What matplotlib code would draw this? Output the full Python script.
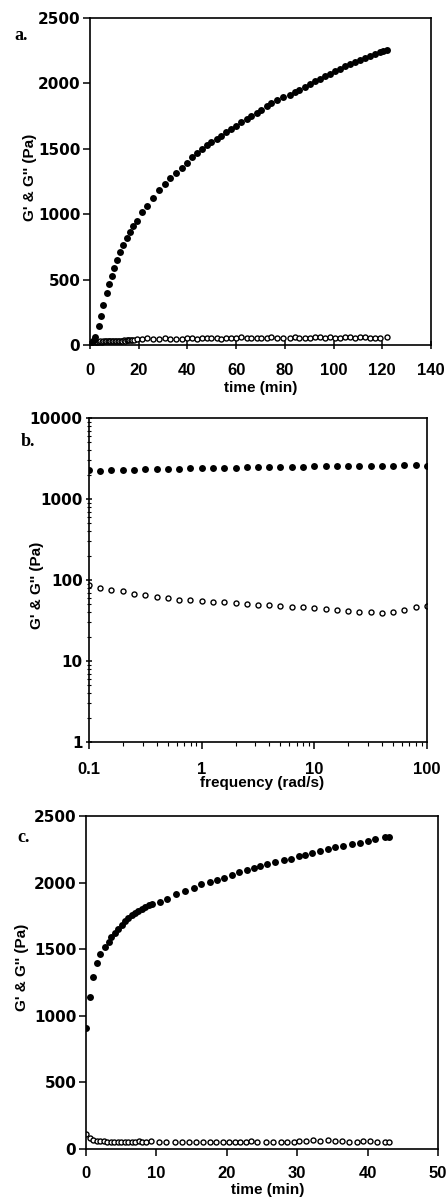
import matplotlib
matplotlib.use("Agg")
import matplotlib.pyplot as plt
from matplotlib.ticker import LogLocator, NullFormatter, FixedLocator

plt.rcParams['font.family'] = ['Liberation Sans', 'DejaVu Sans']
plt.rcParams['font.weight'] = 'bold'

# ---- panel a: gelation at rest (time sweep) ----
a_time_gp = [0.0, 1.5, 2.0, 3.5, 4.5, 5.5, 6.8, 7.8, 9.0, 10.0, 11.2, 12.3, 13.7, 15.0, 16.4,
             17.8, 19.2, 21.2, 23.3, 25.7, 28.3, 30.8, 33.0, 35.3, 37.6, 39.7, 41.7, 43.8,
             45.8, 47.9, 49.9, 52.0, 54.0, 56.0, 58.0, 60.0, 62.0, 64.3, 66.3, 68.4, 70.4,
             72.5, 74.5, 76.6, 79.3, 82.0, 84.0, 86.0, 88.2, 90.3, 92.3, 94.4, 96.4, 98.5,
             100.5, 102.6, 104.6, 106.7, 108.8, 110.8, 112.9, 114.9, 117.0, 119.0, 120.5, 122.0]
a_gp = [5, 40, 60, 145, 222, 306, 395, 464, 528, 587, 650, 714, 765, 816, 867,
        906, 949, 1013, 1059, 1122, 1181, 1230, 1276, 1314, 1352, 1390, 1436, 1467,
        1497, 1526, 1548, 1574, 1599, 1625, 1650, 1676, 1701, 1727, 1752, 1773, 1798,
        1824, 1849, 1875, 1893, 1913, 1931, 1951, 1972, 1997, 2020, 2036, 2054, 2074,
        2092, 2112, 2130, 2148, 2163, 2181, 2194, 2212, 2227, 2240, 2248, 2256]

a_time_gpp = [0.0, 0.6, 1.2, 1.8, 2.4, 3.0, 3.6, 4.2, 4.8, 5.4, 6.0, 6.6, 7.2, 7.8, 8.4,
              9.0, 9.6, 10.2, 10.8, 11.4, 12.0, 12.6, 13.2, 13.8, 14.4, 15.0, 15.6, 16.2,
              16.8, 17.4, 18.0, 19.2, 21.2, 23.3, 25.7, 28.3, 30.8, 33.0, 35.3, 37.6, 39.7,
              41.7, 43.8, 45.8, 47.9, 49.9, 52.0, 54.0, 56.0, 58.0, 60.0, 62.0, 64.3, 66.3,
              68.4, 70.4, 72.5, 74.5, 76.6, 79.3, 82.0, 84.0, 86.0, 88.2, 90.3, 92.3, 94.4,
              96.4, 98.5, 100.5, 102.6, 104.6, 106.7, 108.8, 110.8, 112.9, 114.9, 117.0,
              119.0, 122.0]
a_gpp = [5, 20, 28, 25, 24, 26, 25, 27, 26, 28, 27, 29, 28, 30, 29,
         31, 30, 32, 31, 33, 32, 34, 33, 35, 34, 36, 35, 37,
         36, 38, 37, 45, 47, 50, 46, 48, 50, 47, 49, 48, 50,
         51, 49, 52, 50, 53, 51, 49, 50, 52, 51, 60, 55, 53,
         54, 52, 55, 60, 54, 56, 53, 58, 55, 54, 56, 60, 58,
         55, 59, 56, 54, 57, 60, 55, 58, 61, 56, 55,
         54, 60]

# ---- panel b: frequency sweep ----
b_freq = [0.1, 0.126, 0.158, 0.2, 0.251, 0.316, 0.398, 0.501, 0.631, 0.794,
          1.0, 1.26, 1.58, 2.0, 2.51, 3.16, 3.98, 5.01, 6.31, 7.94,
          10.0, 12.6, 15.8, 20.0, 25.1, 31.6, 39.8, 50.1, 63.1, 79.4, 100.0]
b_gp = [2280, 2240, 2300, 2300, 2300, 2370, 2370, 2370, 2370, 2410,
        2410, 2410, 2410, 2410, 2480, 2480, 2480, 2480, 2480, 2480,
        2530, 2530, 2530, 2530, 2530, 2530, 2530, 2530, 2600, 2600, 2580]
b_gpp = [87, 80, 76, 72.6, 68, 64.6, 61.5, 60, 57.4, 56,
         54.8, 54, 53, 51.6, 50.2, 49.8, 49.3, 48.4, 47, 46.5,
         44.8, 44, 43.1, 41.8, 40.6, 39.9, 39.5, 40.6, 43.1, 47, 47.5]

# ---- panel c: recovery after shear ----
c_time_gp = [0.0, 0.5, 1.0, 1.6, 2.0, 2.7, 3.2, 3.6, 4.1, 4.6, 5.1, 5.5, 6.0, 6.5, 7.0,
             7.4, 7.9, 8.4, 8.9, 9.4, 10.5, 11.5, 12.8, 14.0, 15.3, 16.4, 17.6, 18.6,
             19.6, 20.7, 21.8, 22.8, 23.8, 24.7, 25.7, 26.9, 28.1, 29.1, 30.2, 31.1,
             32.1, 33.3, 34.3, 35.4, 36.5, 37.8, 38.9, 40.0, 41.1, 42.4, 43.0]
c_gp = [912, 1142, 1292, 1397, 1467, 1517, 1555, 1592, 1625, 1655, 1680, 1710, 1735, 1755, 1772,
        1787, 1805, 1817, 1830, 1842, 1855, 1880, 1912, 1937, 1962, 1987, 2005, 2022,
        2037, 2055, 2080, 2097, 2112, 2122, 2137, 2155, 2167, 2180, 2197, 2210,
        2222, 2237, 2255, 2267, 2275, 2287, 2300, 2312, 2325, 2342, 2342]

c_time_gpp = [0.0, 0.5, 1.0, 1.5, 2.0, 2.5, 3.0, 3.5, 4.0, 4.5, 5.0, 5.5, 6.0, 6.5, 7.0,
              7.5, 8.0, 8.5, 9.3, 10.4, 11.3, 12.6, 13.6, 14.6, 15.6, 16.6, 17.6, 18.5,
              19.4, 20.3, 21.1, 21.9, 22.7, 23.5, 24.3, 25.5, 26.6, 27.7, 28.6, 29.5, 30.3,
              31.2, 32.2, 33.3, 34.4, 35.3, 36.3, 37.4, 38.5, 39.4, 40.3, 41.3, 42.5, 43.0]
c_gpp = [110, 85, 70, 62, 58, 57, 55, 52, 50, 50, 52, 54, 55, 53, 56,
         57, 56, 55, 58, 50, 52, 50, 56, 53, 50, 52, 51, 55,
         54, 52, 53, 56, 55, 58, 56, 52, 54, 51, 56, 53, 57,
         62, 64, 60, 66, 62, 60, 56, 52, 58, 60, 55, 56, 56]

fig = plt.figure(figsize=(4.47, 11.99), dpi=100)

ax_a = fig.add_axes([0.2013, 0.7123, 0.7627, 0.2727])
ax_b = fig.add_axes([0.199, 0.3811, 0.756, 0.2703])
ax_c = fig.add_axes([0.1924, 0.0417, 0.7876, 0.2777])

filled = dict(marker='o', linestyle='none', markersize=5.0, color='black', markeredgewidth=0)
hollow = dict(marker='o', linestyle='none', markersize=3.6, markerfacecolor='white',
              markeredgecolor='black', markeredgewidth=1.0)

for ax in (ax_a, ax_b, ax_c):
    for s in ax.spines.values():
        s.set_linewidth(1.2)
    ax.tick_params(which='major', direction='out', length=5, width=1.1, top=False, right=False)
    ax.tick_params(which='minor', direction='out', length=3, width=0.8, top=False, right=False)
    ax.tick_params(axis='x', which='major', labelsize=12, pad=9)
    ax.tick_params(axis='y', which='major', labelsize=12, pad=2)

# panel a
ax_a.plot(a_time_gpp, a_gpp, zorder=2, **hollow)
ax_a.plot(a_time_gp, a_gp, zorder=3, **filled)
ax_a.set_xlim(0, 140)
ax_a.set_ylim(0, 2500)
ax_a.set_xticks(range(0, 141, 20))
ax_a.set_yticks(range(0, 2501, 500))
ax_a.tick_params(axis='x', which='major', direction='inout', length=6, pad=10)

# panel b
ax_b.plot(b_freq, b_gpp, zorder=2, **hollow)
ax_b.plot(b_freq, b_gp, zorder=3, **filled)
ax_b.set_xscale('log')
ax_b.set_yscale('log')
ax_b.set_xlim(0.1, 100)
ax_b.set_ylim(1, 10000)
ax_b.xaxis.set_major_locator(FixedLocator([0.1, 1, 10, 100]))
ax_b.set_xticklabels(['0.1', '1', '10', '100'])
ax_b.yaxis.set_major_locator(FixedLocator([1, 10, 100, 1000, 10000]))
ax_b.set_yticklabels(['1', '10', '100', '1000', '10000'])
ax_b.xaxis.set_minor_locator(LogLocator(base=10, subs=range(2, 10)))
ax_b.yaxis.set_minor_locator(LogLocator(base=10, subs=range(2, 10)))
ax_b.xaxis.set_minor_formatter(NullFormatter())
ax_b.yaxis.set_minor_formatter(NullFormatter())
ax_b.tick_params(axis='y', which='both', direction='inout')

# panel c
ax_c.plot(c_time_gpp, c_gpp, zorder=2, **hollow)
ax_c.plot(c_time_gp, c_gp, zorder=3, **filled)
ax_c.set_xlim(0, 50)
ax_c.set_ylim(0, 2500)
ax_c.set_xticks(range(0, 51, 10))
ax_c.set_yticks(range(0, 2501, 500))
ax_c.tick_params(axis='x', which='major', pad=7)

# tick labels: x in Liberation Sans, y in the wider DejaVu Sans (as in the scan)
for ax in (ax_a, ax_b, ax_c):
    for lab in ax.get_xticklabels():
        lab.set_fontweight('bold')
    for lab in ax.get_yticklabels():
        lab.set_fontweight('bold')
        lab.set_family('DejaVu Sans')
        lab.set_fontsize(11)

W, H = 447, 1199
def ftext(x, y, s, **kw):
    fig.text(x / W, 1 - y / H, s, ha='center', va='center', **kw)

lab_kw = dict(fontsize=11, fontweight='bold')
ftext(261, 388, 'time (min)', **lab_kw)
ftext(30, 177, "G' & G'' (Pa)", rotation=90, **lab_kw)
ftext(262, 783, 'frequency (rad/s)', **lab_kw)
ftext(37, 585, "G' & G'' (Pa)", rotation=90, **lab_kw)
ftext(268, 1190, 'time (min)', **lab_kw)
ftext(22, 967, "G' & G'' (Pa)", rotation=90, **lab_kw)

let_kw = dict(fontsize=13, fontweight='bold', family='Liberation Serif')
ftext(21, 36, 'a.', **let_kw)
ftext(28, 441, 'b.', **let_kw)
ftext(24, 838, 'c.', **let_kw)

fig.savefig('out.png', dpi=100)
